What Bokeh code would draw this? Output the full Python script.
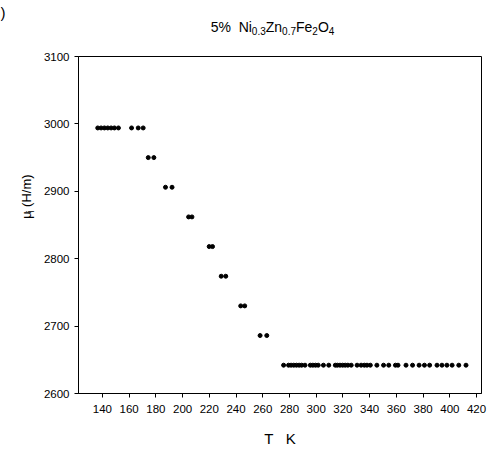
import math

from bokeh.plotting import figure
from bokeh.models import Range1d
from bokeh.layouts import column, row
from bokeh.core.properties import value
from bokeh.embed import file_html
from bokeh.resources import INLINE

# Initial permeability of 5% Ni0.3Zn0.7Fe2O4 against temperature
temperature = [
    136.5, 139.0, 141.5, 144.0, 146.5, 149.0, 152.0, 161.8, 166.8, 170.5,
    174.3, 178.5,
    187.2, 192.1,
    204.5, 207.0,
    219.9, 222.4,
    228.9, 232.3,
    243.5, 246.5,
    258.0, 263.0,
    275.6, 279.3, 281.2, 283.2, 285.2, 287.2, 289.1, 291.6, 295.6, 297.5,
    299.5, 301.5, 305.4, 309.4, 314.3, 315.8, 317.8, 319.8, 321.7, 323.7,
    326.2, 330.6, 333.6, 336.0, 338.0, 340.5, 345.4, 350.4, 354.3, 359.3,
    361.2, 367.2, 372.1, 377.0, 381.0, 384.9, 390.4, 394.1, 397.8, 401.7,
    406.7, 412.1,
]
permeability = (
    [2994] * 10
    + [2950] * 2
    + [2906] * 2
    + [2862] * 2
    + [2818] * 2
    + [2774] * 2
    + [2730] * 2
    + [2686] * 2
    + [2642] * 42
)

x_ticks = list(range(140, 421, 20))
y_ticks = [2600, 2700, 2800, 2900, 3000, 3100]

NB = "\u00a0"   # non-breaking space, kept as-is by the SVG text renderer
title_parts = ["5%" + NB + NB + "Ni", "0.3", "Zn", "0.7", "Fe", "2", "O", "4"]
title_is_sub = [False, True, False, True, False, True, False, True]
ylabel_parts = ["μ", "i", NB + "(H/m)"]
ylabel_is_sub = [False, True, False]
xlabel = "T" + NB * 3 + "K"

W, H = 487, 463
TITLE_H = 48          # height of the title strip
LABEL_W = 40          # width of the y-label strip
LEFT, RIGHT, TOP, BOTTOM = 76, 481, 56, 393   # frame edges on the page
X_LO, X_HI = 122.1, 423.7
Y_LO, Y_HI = 2600, 3100
FONT = "Liberation Sans"

WIDTHS = {
    "0": 556, "1": 556, "2": 556, "3": 556, "4": 556, "5": 556, "6": 556,
    "7": 556, "8": 556, "9": 556, "%": 889, " ": 278, NB: 278, "N": 722,
    "i": 222, ".": 278, "Z": 611, "n": 556, "F": 611, "e": 556, "O": 778,
    "T": 611, "K": 667, "μ": 576, "(": 333, ")": 333, "H": 722, "/": 278,
    "m": 833,
}


def text_width(s, size):
    return sum(WIDTHS.get(c, 556) for c in s) * size / 1000.0


def blank(width, height):
    f = figure(width=width, height=height,
               x_range=Range1d(0, width), y_range=Range1d(0, height),
               x_axis_location=None, y_axis_location=None,
               output_backend="svg", toolbar_location=None,
               min_border=0)
    f.outline_line_color = None
    f.grid.visible = False
    f.background_fill_color = "white"
    f.border_fill_color = "white"
    return f


def put(f, strip_h, items, size_of, angle=0.0):
    # items: (text, x, y_from_top, is_sub)
    for t, x, y, s in items:
        f.text(x=[x], y=[strip_h - y], text=[t], angle=angle,
               text_font=value(FONT), text_font_size=value(f"{size_of(s)}px"),
               text_color="black", text_align="left",
               text_baseline="alphabetic")


# ---- title strip with subscripts
title_fig = blank(W, TITLE_H)
MAIN, SUB, DROP = 14, 10, 4
sz = lambda s: SUB if s else MAIN
total = sum(text_width(t, sz(s)) for t, s in zip(title_parts, title_is_sub))
x0 = 272 - total / 2
items = []
for t, s in zip(title_parts, title_is_sub):
    items.append((t, x0, 26 + (DROP if s else 0), s))
    x0 += text_width(t, sz(s))
put(title_fig, TITLE_H, items, sz)
# panel letter remnant in the corner
title_fig.text(x=[0], y=[TITLE_H - 12], text=[")"], text_font=value(FONT),
               text_font_size=value("15px"), text_color="black",
               text_baseline="alphabetic")

# ---- rotated y label strip
strip_h = H - TITLE_H
ylab_fig = blank(LABEL_W, strip_h)
YL, YS = 13, 10
szy = lambda s: YS if s else YL
total = sum(text_width(t, szy(s)) for t, s in zip(ylabel_parts, ylabel_is_sub))
start = (225 - TITLE_H) + total / 2
items = []
for t, s in zip(ylabel_parts, ylabel_is_sub):
    items.append((t, 26 + (4 if s else 0), start, s))
    start -= text_width(t, szy(s)) + (0.5 if s else 0)
put(ylab_fig, strip_h, items, szy, angle=math.pi / 2)

# ---- main plot
p = figure(
    width=W - LABEL_W, height=strip_h,
    x_range=(X_LO, X_HI), y_range=(Y_LO, Y_HI),
    output_backend="svg", toolbar_location=None,
    min_border_left=LEFT - LABEL_W, min_border_right=W - RIGHT,
    min_border_top=TOP - TITLE_H, min_border_bottom=H - BOTTOM,
)
p.background_fill_color = "white"
p.border_fill_color = "white"
p.outline_line_color = "black"
p.outline_line_width = 1
p.xgrid.visible = False
p.ygrid.visible = False

for ax, ticks in ((p.xaxis, x_ticks), (p.yaxis, y_ticks)):
    ax.ticker = ticks
    ax.major_tick_out = 4
    ax.major_tick_in = 0
    ax.minor_tick_out = 0
    ax.minor_tick_in = 0
    ax.axis_line_color = "black"
    ax.major_tick_line_color = "black"
    ax.major_label_text_font = FONT
    ax.major_label_text_font_size = "11.5px"
    ax.major_label_text_color = "black"
p.xaxis.major_label_standoff = 7
p.yaxis.major_label_standoff = 5
p.xaxis.axis_label = xlabel
p.xaxis.axis_label_text_font = FONT
p.xaxis.axis_label_text_font_size = "15px"
p.xaxis.axis_label_text_font_style = "normal"
p.xaxis.axis_label_text_color = "black"
p.xaxis.axis_label_standoff = 14

p.scatter(temperature, permeability, marker="circle", size=4,
          fill_color="black", line_color="black")

layout = column(title_fig, row(ylab_fig, p, spacing=0), spacing=0)
open("out.html", "w").write(file_html(layout, INLINE))
